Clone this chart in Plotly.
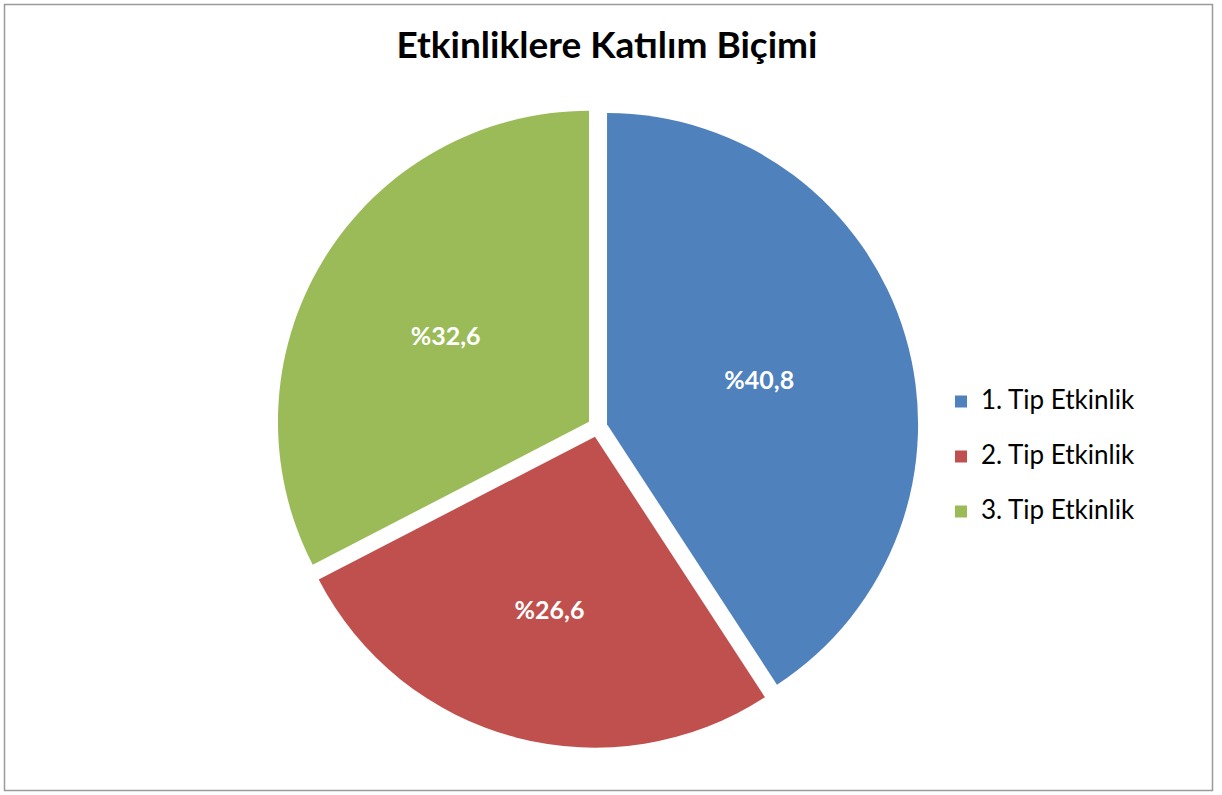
import plotly.graph_objects as go

# ------------------------
# Data
# ------------------------
categories = ["1. Tip Etkinlik", "2. Tip Etkinlik", "3. Tip Etkinlik"]
shares = [40.8, 26.6, 32.6]
slice_labels = ["%40,8", "%26,6", "%32,6"]
colors = ["#4F81BD", "#C0504D", "#9BBB59"]

W, H = 1222, 795

# blank second line in each legend label spaces the entries out
legend_names = ['<span style="font-size:26px">' + c + "</span><br>\u00a0" for c in categories]

fig = go.Figure(go.Pie(
    labels=legend_names,
    values=shares,
    text=slice_labels,
    textinfo="text",
    textposition="inside",
    insidetextorientation="horizontal",
    textfont=dict(family="Lato", size=25, color="white", weight="bold"),
    marker=dict(colors=colors, line=dict(width=0)),
    pull=[0.032, 0.032, 0.032],
    sort=False,
    direction="clockwise",
    rotation=0,
    hoverinfo="value",
    domain=dict(x=[276.5 / W, 918.5 / W], y=[47 / H, 689 / H]),
))

fig.update_layout(
    width=W,
    height=H,
    margin=dict(l=0, r=0, t=0, b=0),
    paper_bgcolor="white",
    plot_bgcolor="white",
    font=dict(family="Lato", color="black"),
    title=dict(
        text="Etkinliklere Katılım Biçimi",
        font=dict(family="Lato", size=37, weight="bold", color="black"),
        x=607 / W, xanchor="center",
        y=1 - 45 / H, yanchor="middle",
    ),
    legend=dict(
        x=941 / W, xanchor="left",
        y=1 - 382 / H, yanchor="top",
        valign="top",
        font=dict(family="Lato", size=20, color="black"),
        bgcolor="rgba(0,0,0,0)",
    ),
    shapes=[dict(
        type="rect", xref="paper", yref="paper",
        x0=4.5 / W, x1=1212.5 / W, y0=1 - 790.5 / H, y1=1 - 4.5 / H,
        line=dict(color="#9a9a9a", width=1.5),
    )],
)

fig.write_html("out.html", config={"displayModeBar": False},
               post_script="document.body.style.margin='0';")
